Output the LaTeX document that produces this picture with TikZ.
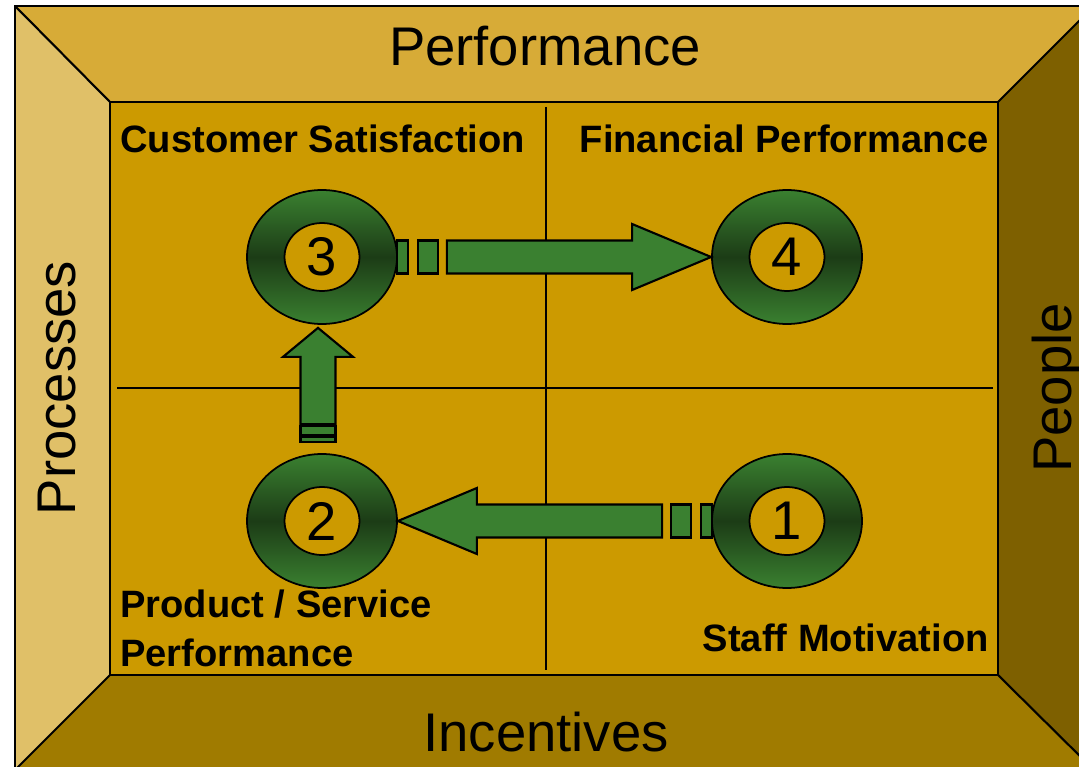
\documentclass[tikz,border=0pt]{standalone}
\usepackage{fontspec}
\setmainfont{Liberation Sans}
\usepackage{tikz}
\usetikzlibrary{shapes.geometric,calc}
\definecolor{topgold}{HTML}{D7AB37}
\definecolor{leftgold}{HTML}{E0C068}
\definecolor{rightbrown}{HTML}{7E6000}
\definecolor{bottombrown}{HTML}{A07B00}
\definecolor{innergold}{HTML}{CC9A00}
\definecolor{ringgreen}{HTML}{3A8030}
\definecolor{ringdark}{HTML}{1C3C16}
\tikzset{
    ring/.style={
           ellipse,
           draw=black, line width=1pt,
           minimum width=3cm, minimum height=2.68cm,
           inner sep=0pt,
           top color=ringgreen, bottom color=ringgreen, middle color=ringdark,
           },
}
\tikzset{
    hole/.style={
           ellipse,
           draw=black, line width=1pt,
           fill=innergold,
           minimum width=1.5cm, minimum height=1.36cm,
           inner sep=0pt,
           font=\fontsize{31}{36}\selectfont,
           },
}
\tikzset{
    blockarrow/.style={
           draw=black, line width=1.2pt,
           fill=ringgreen,
           line join=miter,
           },
}
\tikzset{
    side/.style={draw=black, line width=1.2pt},
    title/.style={font=\fontsize{31}{36}\selectfont, inner sep=0pt},
    quad/.style={font=\fontsize{21.7}{26}\bfseries\selectfont, inner sep=0pt},
}

\begin{document}
\begin{tikzpicture}[x=0.02cm,y=-0.02cm]
\useasboundingbox (0,0) rectangle (1079,767);
\clip (0,0) rectangle (1079,767);
% frame
\fill[topgold] (15,6) -- (1094,6) -- (998,102) -- (110,102) -- cycle;
\fill[leftgold] (15,6) -- (110,102) -- (110,675) -- (15,770) -- cycle;
\fill[rightbrown] (1094,6) -- (1094,770) -- (998,675) -- (998,102) -- cycle;
\fill[bottombrown] (15,770) -- (110,675) -- (998,675) -- (1094,770) -- cycle;
\fill[innergold] (110,102) rectangle (998,675);
\draw[side] (15,6) rectangle (1094,770);
\draw[side] (110,102) rectangle (998,675);
\draw[side] (15,6) -- (110,102) (1094,6) -- (998,102)
            (15,770) -- (110,675) (1094,770) -- (998,675);
% quadrants
\coordinate (vtop) at (546,107);
\coordinate (vbot) at (546,670);
\coordinate (hleft) at (117,388);
\coordinate (hright) at (993,388);
\draw[line width=1pt] (vtop) -- (vbot) (hleft) -- (hright);
% side titles
\node[title,anchor=base] (perf) at (545,66) {Performance};
\node[title,anchor=base] (inc) at (546,751) {Incentives};
\node[title,anchor=base,rotate=90] (proc) at (75,388) {Processes};
\node[title,anchor=base,rotate=90] (peop) at (1071,388) {People};
% quadrant labels
\node[quad,anchor=base west] (cs) at (120,153) {Customer Satisfaction};
\node[quad,anchor=base west,align=left] (ps) at (120,666)
     {Product / Service\\[1.6pt]Performance};
\node[quad,anchor=base east] (fp) at (989,153) {Financial Performance};
\node[quad,anchor=base east] (sm) at (989,651) {Staff Motivation};
% rings
\node[ring] (r3) at (322,257) {};
\node[ring] (r4) at (787,257) {};
\node[ring] (r2) at (322,521) {};
\node[ring] (r1) at (787,521) {};
\node[hole] (n3) at (r3) {3};
\node[hole] (n4) at (r4) {4};
\node[hole] (n2) at (r2) {2};
\node[hole] (n1) at (r1) {1};
% 3 -> 4
\draw[blockarrow] ($(r3.east)+(-1,-16.5)$) rectangle ++(11,33);
\draw[blockarrow] ($(r3.east)+(20,-16.5)$) rectangle ++(20,33);
\draw[blockarrow] ($(r3.east)+(49,-16.5)$) -- ($(r4.west)+(-79,-16.5)$)
     -- ($(r4.west)+(-79,-33)$) -- (r4.west) -- ($(r4.west)+(-79,33)$)
     -- ($(r4.west)+(-79,16.5)$) -- ($(r3.east)+(49,16.5)$) -- cycle;
% 1 -> 2
\draw[blockarrow] ($(r1.west)+(1,-16.5)$) rectangle ++(-11,33);
\draw[blockarrow] ($(r1.west)+(-20,-16.5)$) rectangle ++(-20,33);
\draw[blockarrow] ($(r1.west)+(-49,-16.5)$) -- ($(r2.east)+(79,-16.5)$)
     -- ($(r2.east)+(79,-33)$) -- (r2.east) -- ($(r2.east)+(79,33)$)
     -- ($(r2.east)+(79,16.5)$) -- ($(r1.west)+(-49,16.5)$) -- cycle;
% 2 -> 3
\draw[blockarrow] ($(r2.north)+(-21.5,-11)$) rectangle ++(35,-5);
\draw[blockarrow] ($(r2.north)+(-21.5,-18)$) rectangle ++(35,-9);
\draw[blockarrow] ($(r2.north)+(-21.5,-29)$) -- ($(r3.south)+(-21.5,32)$)
     -- ($(r3.south)+(-39,32)$) -- ($(r3.south)+(-4,3)$) -- ($(r3.south)+(31,32)$)
     -- ($(r3.south)+(13.5,32)$) -- ($(r2.north)+(13.5,-29)$) -- cycle;
\end{tikzpicture}
\end{document}
